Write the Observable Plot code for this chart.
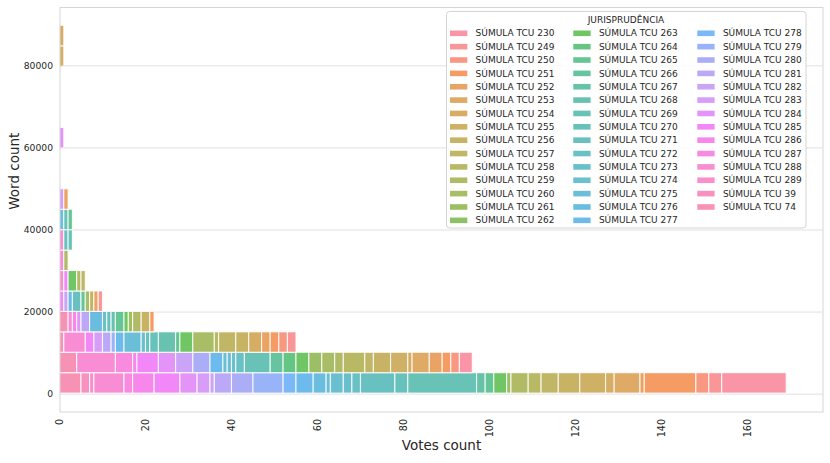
<!DOCTYPE html>
<html><head><meta charset="utf-8">
<script src="https://cdn.jsdelivr.net/npm/d3@7"></script>
<script src="https://cdn.jsdelivr.net/npm/@observablehq/plot@0.6"></script>
<style>body{margin:0;background:#fff;} #chart{width:830px;height:463px;}</style>
</head><body><div id="chart"></div>
<script>
// ---------- data ----------
const categories = [
  "SÚMULA TCU 230","SÚMULA TCU 249","SÚMULA TCU 250","SÚMULA TCU 251","SÚMULA TCU 252",
  "SÚMULA TCU 253","SÚMULA TCU 254","SÚMULA TCU 255","SÚMULA TCU 256","SÚMULA TCU 257",
  "SÚMULA TCU 258","SÚMULA TCU 259","SÚMULA TCU 260","SÚMULA TCU 261","SÚMULA TCU 262",
  "SÚMULA TCU 263","SÚMULA TCU 264","SÚMULA TCU 265","SÚMULA TCU 266","SÚMULA TCU 267",
  "SÚMULA TCU 268","SÚMULA TCU 269","SÚMULA TCU 270","SÚMULA TCU 271","SÚMULA TCU 272",
  "SÚMULA TCU 273","SÚMULA TCU 274","SÚMULA TCU 275","SÚMULA TCU 276","SÚMULA TCU 277",
  "SÚMULA TCU 278","SÚMULA TCU 279","SÚMULA TCU 280","SÚMULA TCU 281","SÚMULA TCU 282",
  "SÚMULA TCU 283","SÚMULA TCU 284","SÚMULA TCU 285","SÚMULA TCU 286","SÚMULA TCU 287",
  "SÚMULA TCU 288","SÚMULA TCU 289","SÚMULA TCU 39","SÚMULA TCU 74"
];
// word-count bin edges
const binEdges = [122, 5101, 10080, 15059, 20038, 25017, 29996, 34975, 39954, 44933,
                  49912, 54891, 59870, 64849, 69828, 74807, 79786, 84765, 89744];
// counts per category (same order as categories) for each word-count bin
const bin0 = [15,3,3,12,1,6,2,6,5,4, 3,4,0,1,0,3,0,2,0,2, 0,16,3,8,2,2,3,1,3,4, 3,7,5,4,1,3,4,6,5,2, 7,1,2,5];
const bin1 = [3,0,2,2,3,4,1,4,4,2, 5,2,3,3,0,3,3,0,3,0, 0,6,0,0,2,1,1,1,0,3, 0,0,4,0,4,0,4,5,1,4, 9,0,0,4];
const bin2 = [0,2,2,2,2,0,3,0,3,4, 1,0,5,0,0,3,0,1,0,0, 4,0,2,1,0,1,0,4,0,2, 0,1,0,2,0,2,0,2,0,0, 5,0,0,1];
const bin3 = [0,0,0,1,0,0,0,0,2,0, 0,2,0,1,0,1,0,2,0,0, 1,0,1,0,1,0,0,0,3,0, 0,0,0,2,0,0,1,0,1,0, 1,0,0,2];
const bin4 = [0,1,0,0,1,0,0,0,0,1, 0,0,1,0,0,0,0,1,0,0, 0,0,0,2,0,0,0,0,1,0, 0,0,0,0,1,0,0,1,0,0, 0,0,0,0];
const bin5 = [0,0,0,0,0,0,0,0,0,1, 0,1,0,0,0,2,0,0,0,0, 0,0,0,0,0,0,0,0,0,0, 0,0,0,0,0,0,0,1,0,0, 0,1,0,0];
const bin6 = [0,0,0,0,0,0,0,0,0,0, 0,1,0,0,0,0,0,0,0,0, 0,0,0,0,0,0,0,0,0,0, 0,0,0,0,0,0,0,0,0,1, 0,0,0,0];
const bin7 = [0,0,0,0,0,0,0,0,0,0, 0,0,0,0,0,0,0,0,0,0, 0,1,0,1,0,0,0,0,0,0, 0,0,0,0,0,0,0,0,0,0, 1,0,0,0];
const bin8 = [0,0,0,0,0,0,0,0,0,0, 0,0,0,0,0,0,0,1,0,0, 0,0,1,0,0,0,0,0,1,0, 0,0,0,0,0,0,0,0,0,0, 0,0,0,0];
const bin9 = [0,0,0,0,1,0,0,0,0,0, 0,0,0,0,0,0,0,0,0,0, 0,0,0,0,0,0,0,0,0,0, 0,0,0,0,0,1,0,0,0,0, 0,0,0,0];
const bin10 = [];
const bin11 = [];
const bin12 = [0,0,0,0,0,0,0,0,0,0, 0,0,0,0,0,0,0,0,0,0, 0,0,0,0,0,0,0,0,0,0, 0,0,0,0,0,0,1,0,0,0, 0,0,0,0];
const bin13 = [];
const bin14 = [];
const bin15 = [];
const bin16 = [0,0,0,0,0,0,1,0,0,0, 0,0,0,0,0,0,0,0,0,0, 0,0,0,0,0,0,0,0,0,0, 0,0,0,0,0,0,0,0,0,0, 0,0,0,0];
const bin17 = [0,0,0,0,0,0,1,0,0,0, 0,0,0,0,0,0,0,0,0,0, 0,0,0,0,0,0,0,0,0,0, 0,0,0,0,0,0,0,0,0,0, 0,0,0,0];
const xTicks = [0, 20, 40, 60, 80, 100, 120, 140, 160];
const yTicks = [0, 20000, 40000, 60000, 80000];

// ---------- husl palette (seaborn style) ----------
const Mx = [[3.2406,-1.5372,-0.4986],[-0.9689,1.8758,0.0415],[0.0557,-0.2040,1.0570]];
function maxChroma(L, H) {
  const hr = H / 180 * Math.PI, sinH = Math.sin(hr), cosH = Math.cos(hr);
  const sub1 = Math.pow(L + 16, 3) / 1560896;
  const sub2 = sub1 > 0.008856 ? sub1 : L / 903.3;
  let res = Infinity;
  for (const [m1, m2, m3] of Mx) {
    const top = (0.99915 * m1 + 1.05122 * m2 + 1.14460 * m3) * sub2;
    const rb = 0.86330 * m3 - 0.17266 * m2;
    const lb = 0.12949 * m3 - 0.38848 * m1;
    const bottom = (rb * sinH + lb * cosH) * sub2;
    for (const t of [0, 1]) {
      const C = L * (top - 1.05122 * t) / (bottom + 0.17266 * sinH * t);
      if (C > 0 && C < res) res = C;
    }
  }
  return res;
}
function huslToHex(H, S, L) {
  const C = maxChroma(L, H) / 100 * S;
  const hr = H / 180 * Math.PI;
  const U = Math.cos(hr) * C, V = Math.sin(hr) * C;
  const t = (L + 16) / 116;
  const varY = Math.pow(t, 3) > 0.008856 ? Math.pow(t, 3) : (116 * t - 16) / 903.3;
  const varU = U / (13 * L) + 0.19784, varV = V / (13 * L) + 0.46834;
  const Y = varY;
  const X = -(9 * Y * varU) / ((varU - 4) * varV - varU * varV);
  const Z = (9 * Y - 15 * varV * Y - varV * X) / (3 * varV);
  const rgb = Mx.map(r => {
    let c = r[0] * X + r[1] * Y + r[2] * Z;
    c = c <= 0.0031308 ? 12.92 * c : 1.055 * Math.pow(c, 1 / 2.4) - 0.055;
    return Math.round(Math.max(0, Math.min(1, c)) * 255);
  });
  return d3.rgb(...rgb).formatHex();
}
const n = categories.length;
const colors = d3.range(n).map(i => huslToHex(((i / n + 0.01) % 1) * 359, 0.9 * 99, 0.65 * 99));

// ---------- table ----------
const bins = [bin0,bin1,bin2,bin3,bin4,bin5,bin6,bin7,bin8,bin9,bin10,bin11,bin12,bin13,bin14,bin15,bin16,bin17];
const rows = [];
bins.forEach((counts, b) => {
  for (let i = n - 1; i >= 0; i--) {
    const c = counts[i] || 0;
    if (c > 0) rows.push({y1: binEdges[b], y2: binEdges[b + 1], count: c, cat: categories[i]});
  }
});

const plot = Plot.plot({
  width: 830, height: 463,
  marginLeft: 59.5, marginRight: 7.5, marginTop: 7, marginBottom: 51.5,
  style: {fontFamily: "DejaVu Sans", fontSize: "9.4px", color: "#262626", background: "white", overflow: "visible"},
  x: {domain: [0, 177.45], label: null},
  y: {domain: [-4360, 94220], label: null},
  color: {domain: categories, range: colors},
  marks: [
    Plot.gridY(yTicks, {stroke: "#e0e0e0", strokeOpacity: 1, strokeWidth: 1}),
    Plot.rectX(rows, {y1: "y1", y2: "y2", x: "count", fill: "cat", fillOpacity: 0.75,
                      stroke: "white", strokeOpacity: 0.85, strokeWidth: 1.1}),
    Plot.frame({stroke: "#d6d6d6"}),
    Plot.axisX(xTicks, {tickSize: 0, tickPadding: 7, tickRotate: -90, label: null, fontSize: 9.6, tickFormat: d => String(d)}),
    Plot.axisY(yTicks, {tickSize: 0, tickPadding: 7, label: null, fontSize: 9.2, tickFormat: d => String(d)}),
    Plot.text(["Votes count"], {frameAnchor: "bottom", dy: 37.5, fontSize: 13.5, fill: "#262626"}),
    Plot.text(["Word count"], {frameAnchor: "left", dx: -45, rotate: -90, fontSize: 13.5, fill: "#262626"})
  ]
});
document.getElementById("chart").appendChild(plot);

// ---------- legend ----------
const svg = d3.select(plot);
const g = svg.append("g").attr("font-family", "DejaVu Sans").attr("font-size", 9)
  .attr("fill", "#262626").attr("text-anchor", "start");
g.append("rect").attr("x", 446.5).attr("y", 11.5).attr("width", 359.5).attr("height", 216.5)
  .attr("rx", 3).attr("fill", "white").attr("fill-opacity", 0.85).attr("stroke", "#d4d4d4");
g.append("text").attr("x", 626).attr("y", 19.7).attr("text-anchor", "middle")
  .attr("dy", "0.35em").text("JURISPRUDÊNCIA");
const colX = [450, 573.3, 697.3];
categories.forEach((c, i) => {
  const col = Math.floor(i / 15), row = i % 15;
  const y = 33.3 + row * 13.36;
  g.append("rect").attr("x", colX[col]).attr("y", y - 2.8).attr("width", 17.3).attr("height", 5.6)
    .attr("fill", colors[i]).attr("fill-opacity", 0.75);
  g.append("text").attr("x", colX[col] + 25.6).attr("y", y).attr("dy", "0.35em")
    .attr("text-anchor", "start").text(c);
});
</script></body></html>
